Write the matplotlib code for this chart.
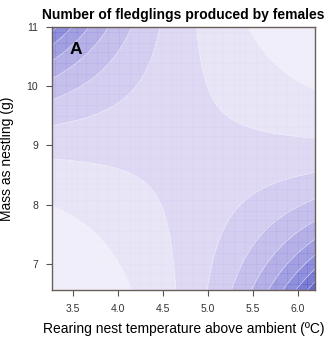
import numpy as np
import matplotlib.pyplot as plt
from matplotlib.colors import LinearSegmentedColormap, BoundaryNorm

# fitted surface (log scale): intercept, temp, mass, temp x mass
coef_intercept = -13.484
coef_temp = 3.089
coef_mass = 1.640
coef_temp_mass = -0.3453

temp_range = [3.27, 6.19]
mass_range = [6.56, 11.0]
levels = [0, 1, 2, 3, 4, 5, 6, 7, 8, 9, 10, 11]

xticks = [3.5, 4.0, 4.5, 5.0, 5.5, 6.0]
xticklabels = ['3.5', '4.0', '4.5', '5.0', '5.5', '6.0']
yticks = [7, 8, 9, 10, 11]

plt.rcParams['font.family'] = ['Liberation Sans', 'DejaVu Sans']

fig = plt.figure(figsize=(3.3, 3.42), dpi=100)
ax = fig.add_axes([0.158, 0.152, 0.797, 0.769])

cmap = LinearSegmentedColormap.from_list(
    'fledge', ['#f8f6fc', '#e4dff5', '#cbc3ee', '#a49ee2', '#7474d4', '#4246c0'])
norm = BoundaryNorm(levels, cmap.N)

xf = np.linspace(temp_range[0], temp_range[1], 400)
yf = np.linspace(mass_range[0], mass_range[1], 400)
XF, YF = np.meshgrid(xf, yf)
ZF = np.exp(coef_intercept + coef_temp * XF + coef_mass * YF + coef_temp_mass * XF * YF)
ax.contourf(XF, YF, ZF, levels=levels, cmap=cmap, norm=norm)
ax.contour(XF, YF, ZF, levels=levels, colors='white', linewidths=0.6, alpha=0.6)

# faint raster texture
gx = np.linspace(temp_range[0], temp_range[1], 120)
gy = np.linspace(mass_range[0], mass_range[1], 120)
ax.vlines(gx, mass_range[0], mass_range[1], colors='white', linewidth=0.3, alpha=0.5)
ax.hlines(gy, temp_range[0], temp_range[1], colors='white', linewidth=0.3, alpha=0.5)

ax.set_xlim(temp_range)
ax.set_ylim(mass_range)
ax.set_xticks(xticks)
ax.set_xticklabels(xticklabels)
ax.set_yticks(yticks)

for s in ax.spines.values():
    s.set_color('#6b5f5c')
    s.set_linewidth(1.0)

ax.tick_params(direction='out', length=4, width=0.8, color='#555555',
               labelsize=7.5, labelcolor='#333333', pad=6)

ax.text(3.53, 10.62, 'A', fontsize=12.5, fontweight='bold', ha='center', va='center')

ax.set_title('Number of fledglings produced by females', fontsize=10,
             fontweight='bold', pad=6)
ax.set_xlabel('Rearing nest temperature above ambient (\u00baC)', fontsize=10, labelpad=6)
ax.set_ylabel('Mass as nestling (g)', fontsize=10, labelpad=9)

fig.savefig('out.png', dpi=100)
